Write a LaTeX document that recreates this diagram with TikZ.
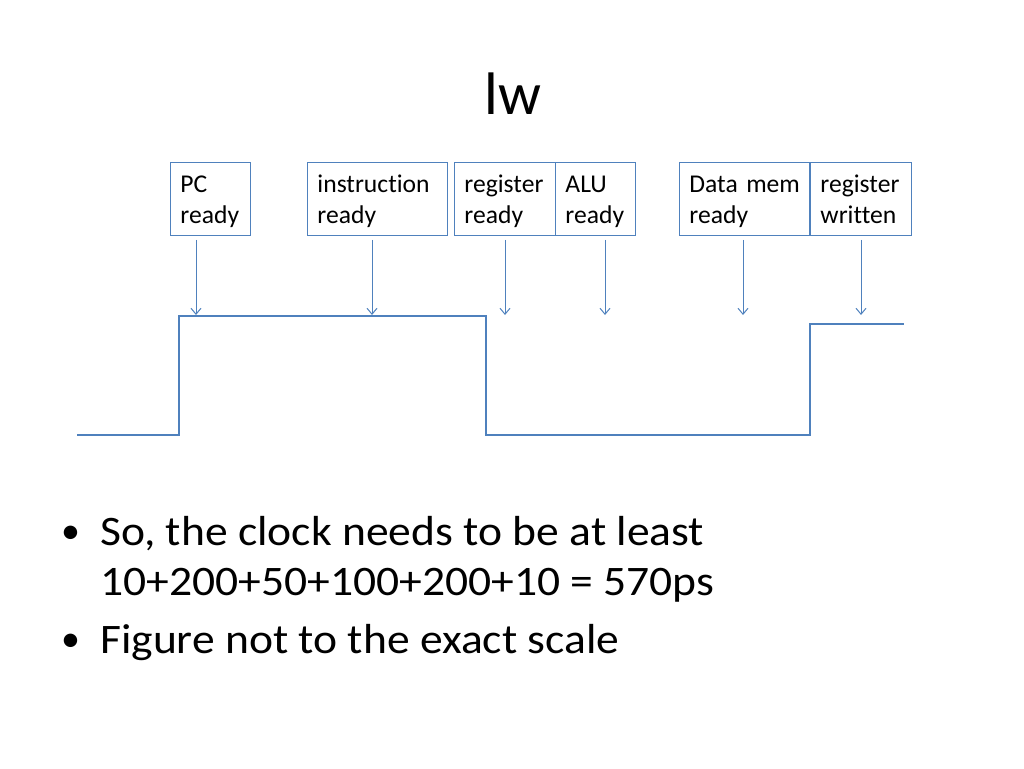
\documentclass[tikz,border=0pt]{standalone}
\usepackage{fontspec}
\setmainfont{Carlito}[Ligatures=NoCommon]
\newfontfamily\widefont{Carlito}[Ligatures=NoCommon,FakeStretch=1.085]
\usetikzlibrary{arrows.meta}
\definecolor{lineblue}{HTML}{4F81BD}
\newcommand{\boxtext}[2]{\rule{0pt}{22pt}#1\\#2\rule[-4pt]{0pt}{4pt}}
\begin{document}
\begin{tikzpicture}[x=1pt,y=-1pt,
  labelbox/.style={draw=lineblue,line width=0.9pt,anchor=north west,inner xsep=10pt,inner ysep=0pt,
    minimum height=73pt,align=left,font=\fontsize{25.6}{31}\selectfont},
  readyarrow/.style={draw=lineblue,line width=1pt,-{Straight Barb[length=6pt,width=10pt]}},
  wave/.style={draw=lineblue,line width=1.3pt},
  bullettext/.style={anchor=base west,inner sep=0pt,font=\widefont\fontsize{42}{50}\selectfont},
  bulletmark/.style={anchor=base west,inner sep=0pt,font=\fontsize{38}{46}\selectfont}]
\useasboundingbox (0,0) rectangle (1024,768);
% title
\node[anchor=base,inner sep=0pt,font=\fontsize{60}{72}\selectfont] (title) at (513,114) {lw};
% boxes
\node[labelbox,text width=60pt] (pc) at (170,162) {\boxtext{PC}{ready}};
\node[labelbox,text width=120pt] (instr) at (307,162) {\boxtext{instruction}{ready}};
\node[labelbox,text width=81pt] (reg) at (454,162) {\boxtext{register}{ready}};
\node[labelbox,text width=60pt] (alu) at (555,162) {\boxtext{ALU}{ready}};
\node[labelbox,text width=110pt] (dmem) at (679,162) {\boxtext{\mbox{Data mem}}{ready}};
\node[labelbox,text width=81pt] (regw) at (810,162) {\boxtext{register}{written}};
% arrow tips
\coordinate (tpc) at (196,315);
\coordinate (tinstr) at (372,315);
\coordinate (treg) at (505,315);
\coordinate (talu) at (605,315);
\coordinate (tdmem) at (743,315);
\coordinate (tregw) at (861,315);
\foreach \b/\t in {pc/tpc,instr/tinstr,reg/treg,alu/talu,dmem/tdmem,regw/tregw}{
  \draw[readyarrow] ([yshift=-4pt]\b.south -| \t) -- (\t);
}
% clock waveform
\coordinate (w0) at (77,435);
\coordinate (w5) at (904,324);
\draw[wave] (w0) -- (179,435) -- (179,316) -- (486,316) -- (486,435) -- (810,435) -- (810,324) -- (w5);
% bullets
\node[bulletmark] (b1) at (61,543) {•};
\node[bullettext] (l1) at (100,545) {So, the clock needs to be at least};
\node[bullettext] (l2) at (100,595) {10+200+50+100+200+10 = 570ps};
\node[bulletmark] (b2) at (61,651) {•};
\node[bullettext] (l3) at (100,653) {Figure not to the exact scale};
\end{tikzpicture}
\end{document}
